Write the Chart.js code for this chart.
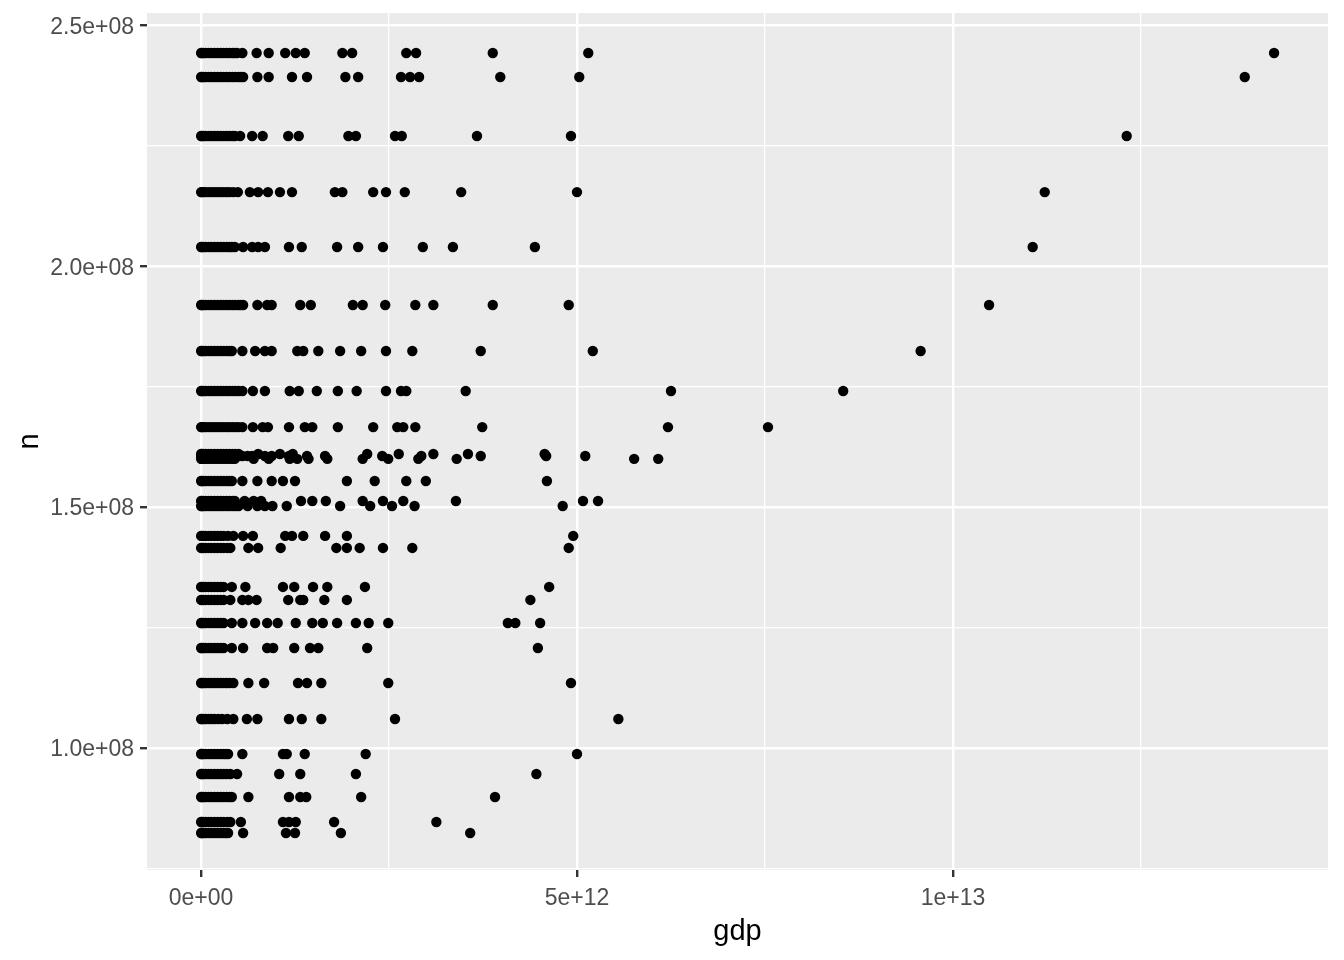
<!DOCTYPE html>
<html>
<head>
<meta charset="utf-8">
<script src="https://cdn.jsdelivr.net/npm/chart.js@4"></script>
<style>
  html, body { margin: 0; padding: 0; background: #fff; }
  #wrap { width: 1344px; height: 960px; }
</style>
</head>
<body>
<div id="wrap"><canvas id="gdp-chart"></canvas></div>
<script>
// n for each row of points (units of 1e8)
const nLevels = [2.443, 2.393, 2.2705, 2.154, 2.040, 1.9195, 1.824, 1.741, 1.666,
  1.610, 1.606, 1.600, 1.554, 1.5125, 1.502, 1.440, 1.415, 1.334, 1.307, 1.259,
  1.2071, 1.1345, 1.0597, 0.987, 0.9455, 0.8977, 0.8458, 0.8229];

// gdp values on each row (units of 1e12), same order as nLevels
const gdpRows = [
  [0.002,0.01,0.03,0.06,0.1,0.14,0.18,0.22,0.26,0.3,0.34,0.38,0.42,0.45,0.48, 0.55,0.74,0.90,1.12,1.26,1.38,1.88,2.01,2.73,2.86,3.88,5.15,14.27],
  [0.002,0.01,0.03,0.06,0.1,0.14,0.18,0.22,0.26,0.3,0.34,0.38,0.42,0.46,0.5,0.53,0.56, 0.75,0.90,1.21,1.41,1.92,2.09,2.66,2.78,2.90,3.98,5.03,13.88],
  [0.002,0.01,0.03,0.06,0.1,0.14,0.18,0.22,0.26,0.3,0.34,0.38,0.42,0.45, 0.52,0.68,0.82,1.16,1.30,1.96,2.06,2.58,2.67,3.67,4.92,12.31],
  [0.002,0.01,0.03,0.06,0.1,0.14,0.18,0.22,0.26,0.3,0.34,0.38,0.43, 0.49,0.65,0.76,0.89,1.05,1.21,1.78,1.88,2.29,2.46,2.71,3.46,5.0,11.22],
  [0.002,0.01,0.03,0.06,0.1,0.14,0.18,0.22,0.26,0.3,0.34,0.38,0.41, 0.45,0.56,0.68,0.76,0.85,1.17,1.34,1.81,2.09,2.42,2.95,3.35,4.44,11.06],
  [0.002,0.01,0.03,0.06,0.1,0.14,0.18,0.22,0.26,0.3,0.34,0.38,0.42,0.46,0.5,0.53,0.56, 0.75,0.88,0.94,1.32,1.46,2.02,2.15,2.45,2.85,3.09,3.88,4.89,10.48],
  [0.002,0.01,0.03,0.06,0.1,0.14,0.18,0.22,0.26,0.3,0.34,0.38,0.41, 0.55,0.72,0.85,0.94,1.28,1.36,1.56,1.85,2.13,2.46,2.81,3.72,5.21,9.57],
  [0.002,0.01,0.03,0.06,0.1,0.14,0.18,0.22,0.26,0.3,0.34,0.38,0.42,0.46,0.5,0.55, 0.69,0.85,1.18,1.30,1.54,1.82,2.07,2.46,2.66,2.73,3.52,6.25,8.54],
  [0.002,0.01,0.03,0.06,0.1,0.14,0.18,0.22,0.26,0.3,0.34,0.38,0.42,0.46,0.5,0.55, 0.69,0.82,0.89,1.17,1.38,1.48,1.82,2.29,2.61,2.69,2.85,3.74,6.21,7.54],
  [0.002,0.01,0.03,0.06,0.1,0.14,0.18,0.22,0.26,0.3,0.34,0.38,0.42,0.46,0.5, 0.76,1.05,1.22,2.21,2.63,3.09,3.55,4.57],
  [0.002,0.01,0.03,0.06,0.1,0.14,0.18,0.22,0.26,0.3,0.34,0.38,0.42,0.46,0.5,0.55, 0.62,0.68,0.85,0.94,1.17,1.41,1.65,2.41,2.93,3.72,4.59,5.11],
  [0.002,0.01,0.03,0.06,0.1,0.14,0.18,0.22,0.26,0.3,0.34,0.38,0.42,0.45, 0.7,0.9,1.18,1.28,1.43,1.68,2.15,2.49,2.89,3.40,5.76,6.08],
  [0.002,0.01,0.03,0.06,0.1,0.14,0.18,0.22,0.26,0.3,0.34,0.38,0.41, 0.55,0.75,0.94,1.09,1.25,1.94,2.31,2.73,2.99,4.60],
  [0.002,0.01,0.03,0.06,0.1,0.14,0.18,0.22,0.26,0.3,0.34,0.38,0.42,0.45, 0.58,0.7,0.8,1.33,1.48,1.66,2.15,2.42,2.69,3.39,5.08,5.28],
  [0.002,0.01,0.03,0.06,0.1,0.14,0.18,0.22,0.26,0.3,0.34,0.38,0.42,0.46,0.5, 0.62,0.75,0.85,0.95,1.14,1.85,2.25,2.54,2.84,4.81],
  [0.002,0.01,0.03,0.06,0.1,0.14,0.18,0.22,0.26,0.3, 0.36,0.43,0.56,0.69,1.12,1.21,1.36,1.65,1.94,4.95],
  [0.002,0.01,0.03,0.06,0.1,0.14,0.18,0.22,0.26,0.3,0.35,0.39, 0.63,0.76,1.06,1.80,1.94,2.11,2.42,2.81,4.89],
  [0.002,0.01,0.03,0.06,0.1,0.14,0.18,0.22,0.26,0.3, 0.41,0.59,1.09,1.24,1.49,1.68,2.18,4.63],
  [0.002,0.01,0.03,0.06,0.1,0.14,0.18,0.22,0.26,0.3, 0.39,0.55,0.63,0.74,1.16,1.32,1.36,1.64,1.94,4.38],
  [0.002,0.01,0.03,0.06,0.1,0.14,0.18,0.22,0.26,0.3, 0.41,0.55,0.72,0.88,1.02,1.26,1.48,1.62,1.81,2.06,2.23,2.49,4.08,4.18,4.51],
  [0.002,0.01,0.03,0.06,0.1,0.14,0.18,0.22,0.26,0.3, 0.41,0.56,0.88,0.96,1.24,1.45,1.56,2.21,4.48],
  [0.002,0.01,0.03,0.06,0.1,0.14,0.18,0.22,0.26,0.3,0.34,0.38,0.43, 0.63,0.84,1.29,1.41,1.60,2.49,4.92],
  [0.002,0.01,0.03,0.06,0.1,0.14,0.18,0.23, 0.28,0.35,0.43,0.61,0.75,1.17,1.34,1.60,2.58,5.55],
  [0.002,0.01,0.03,0.06,0.1,0.14,0.18,0.22,0.26,0.3,0.33,0.36, 0.55,1.09,1.14,1.38,2.19,5.0],
  [0.002,0.01,0.03,0.06,0.1,0.14,0.18,0.22,0.26,0.3,0.34,0.39, 0.48,1.04,1.32,2.06,4.46],
  [0.002,0.01,0.03,0.06,0.1,0.14,0.18,0.22,0.26,0.3,0.34,0.38,0.41, 0.63,1.17,1.32,1.40,2.13,3.91],
  [0.002,0.01,0.03,0.06,0.1,0.14,0.18,0.22,0.26,0.3,0.35,0.39, 0.53,1.09,1.17,1.26,1.77,3.13],
  [0.002,0.01,0.03,0.06,0.1,0.14,0.18,0.22,0.26,0.3,0.33,0.36, 0.56,1.13,1.25,1.86,3.58]
];

const xMajor = [0, 5e12, 1e13];
const xMajorLabels = ['0e+00', '5e+12', '1e+13'];
const xMinor = [2.5e12, 7.5e12, 1.25e13];
const yMajor = [1.0e8, 1.5e8, 2.0e8, 2.5e8];
const yMajorLabels = ['1.0e+08', '1.5e+08', '2.0e+08', '2.5e+08'];
const yMinor = [0.75e8, 1.25e8, 1.75e8, 2.25e8];

const points = [];
gdpRows.forEach((row, i) => {
  row.forEach(g => points.push({x: g * 1e12, y: nLevels[i] * 1e8}));
});

const font = "'Liberation Sans', Arial, sans-serif";
const isMajor = (list, v) => list.some(m => Math.abs(m - v) < 1);

// grey panel behind the points, ggplot style
const panelBg = {
  id: 'panelBg',
  beforeDraw(chart) {
    const a = chart.chartArea;
    const c = chart.ctx;
    c.save();
    c.fillStyle = '#EBEBEB';
    c.fillRect(a.left, a.top, a.right - a.left, a.bottom - a.top);
    c.restore();
  }
};

// axis titles
const axisTitles = {
  id: 'axisTitles',
  afterDraw(chart) {
    const a = chart.chartArea;
    const c = chart.ctx;
    c.save();
    c.fillStyle = '#000';
    c.font = '29px ' + font;
    c.textAlign = 'center';
    c.textBaseline = 'middle';
    c.fillText('gdp', (a.left + a.right) / 2, 932);
    c.translate(30, (a.top + a.bottom) / 2);
    c.rotate(-Math.PI / 2);
    c.fillText('n', 0, 0);
    c.restore();
  }
};

const config = {
  type: 'scatter',
  data: {
    datasets: [{
      data: points,
      backgroundColor: '#000',
      borderWidth: 0,
      pointRadius: 5.2,
      pointHoverRadius: 5.2
    }]
  },
  options: {
    responsive: true,
    maintainAspectRatio: false,
    animation: false,
    events: [],
    layout: { padding: { top: 13, right: 16, left: 0, bottom: 0 } },
    scales: {
      x: {
        type: 'linear',
        min: -0.718e12,
        max: 14.987e12,
        afterBuildTicks: (s) => { s.ticks = xMajor.concat(xMinor).sort((a, b) => a - b).map(v => ({value: v})); },
        afterFit: (s) => { s.height = 90; s.paddingLeft = 0; s.paddingRight = 0; },
        border: { display: false },
        grid: {
          color: '#FFFFFF',
          lineWidth: (ctx) => isMajor(xMajor, ctx.tick.value) ? 2.4 : 1.2,
          tickLength: 7,
          tickWidth: 2.4,
          tickColor: (ctx) => isMajor(xMajor, ctx.tick.value) ? '#333333' : 'rgba(0,0,0,0)'
        },
        ticks: {
          autoSkip: false,
          maxRotation: 0,
          padding: 8,
          color: '#4D4D4D',
          font: { family: font, size: 23 },
          callback: (v) => { const i = xMajor.findIndex(m => Math.abs(m - v) < 1); return i >= 0 ? xMajorLabels[i] : ''; }
        }
      },
      y: {
        type: 'linear',
        min: 0.7461e8,
        max: 2.526e8,
        afterBuildTicks: (s) => { s.ticks = yMajor.concat(yMinor).sort((a, b) => a - b).map(v => ({value: v})); },
        afterFit: (s) => { s.width = 147; s.paddingTop = 0; s.paddingBottom = 0; },
        border: { display: false },
        grid: {
          color: '#FFFFFF',
          lineWidth: (ctx) => isMajor(yMajor, ctx.tick.value) ? 2.4 : 1.2,
          tickLength: 7,
          tickWidth: 2.4,
          tickColor: (ctx) => isMajor(yMajor, ctx.tick.value) ? '#333333' : 'rgba(0,0,0,0)'
        },
        ticks: {
          autoSkip: false,
          padding: 6,
          labelOffset: 2,
          color: '#4D4D4D',
          font: { family: font, size: 23 },
          callback: (v) => { const i = yMajor.findIndex(m => Math.abs(m - v) < 1); return i >= 0 ? yMajorLabels[i] : ''; }
        }
      }
    },
    plugins: {
      legend: { display: false },
      tooltip: { enabled: false }
    }
  },
  plugins: [panelBg, axisTitles]
};

const gdpChart = new Chart(document.getElementById('gdp-chart'), config);
</script>
</body>
</html>
